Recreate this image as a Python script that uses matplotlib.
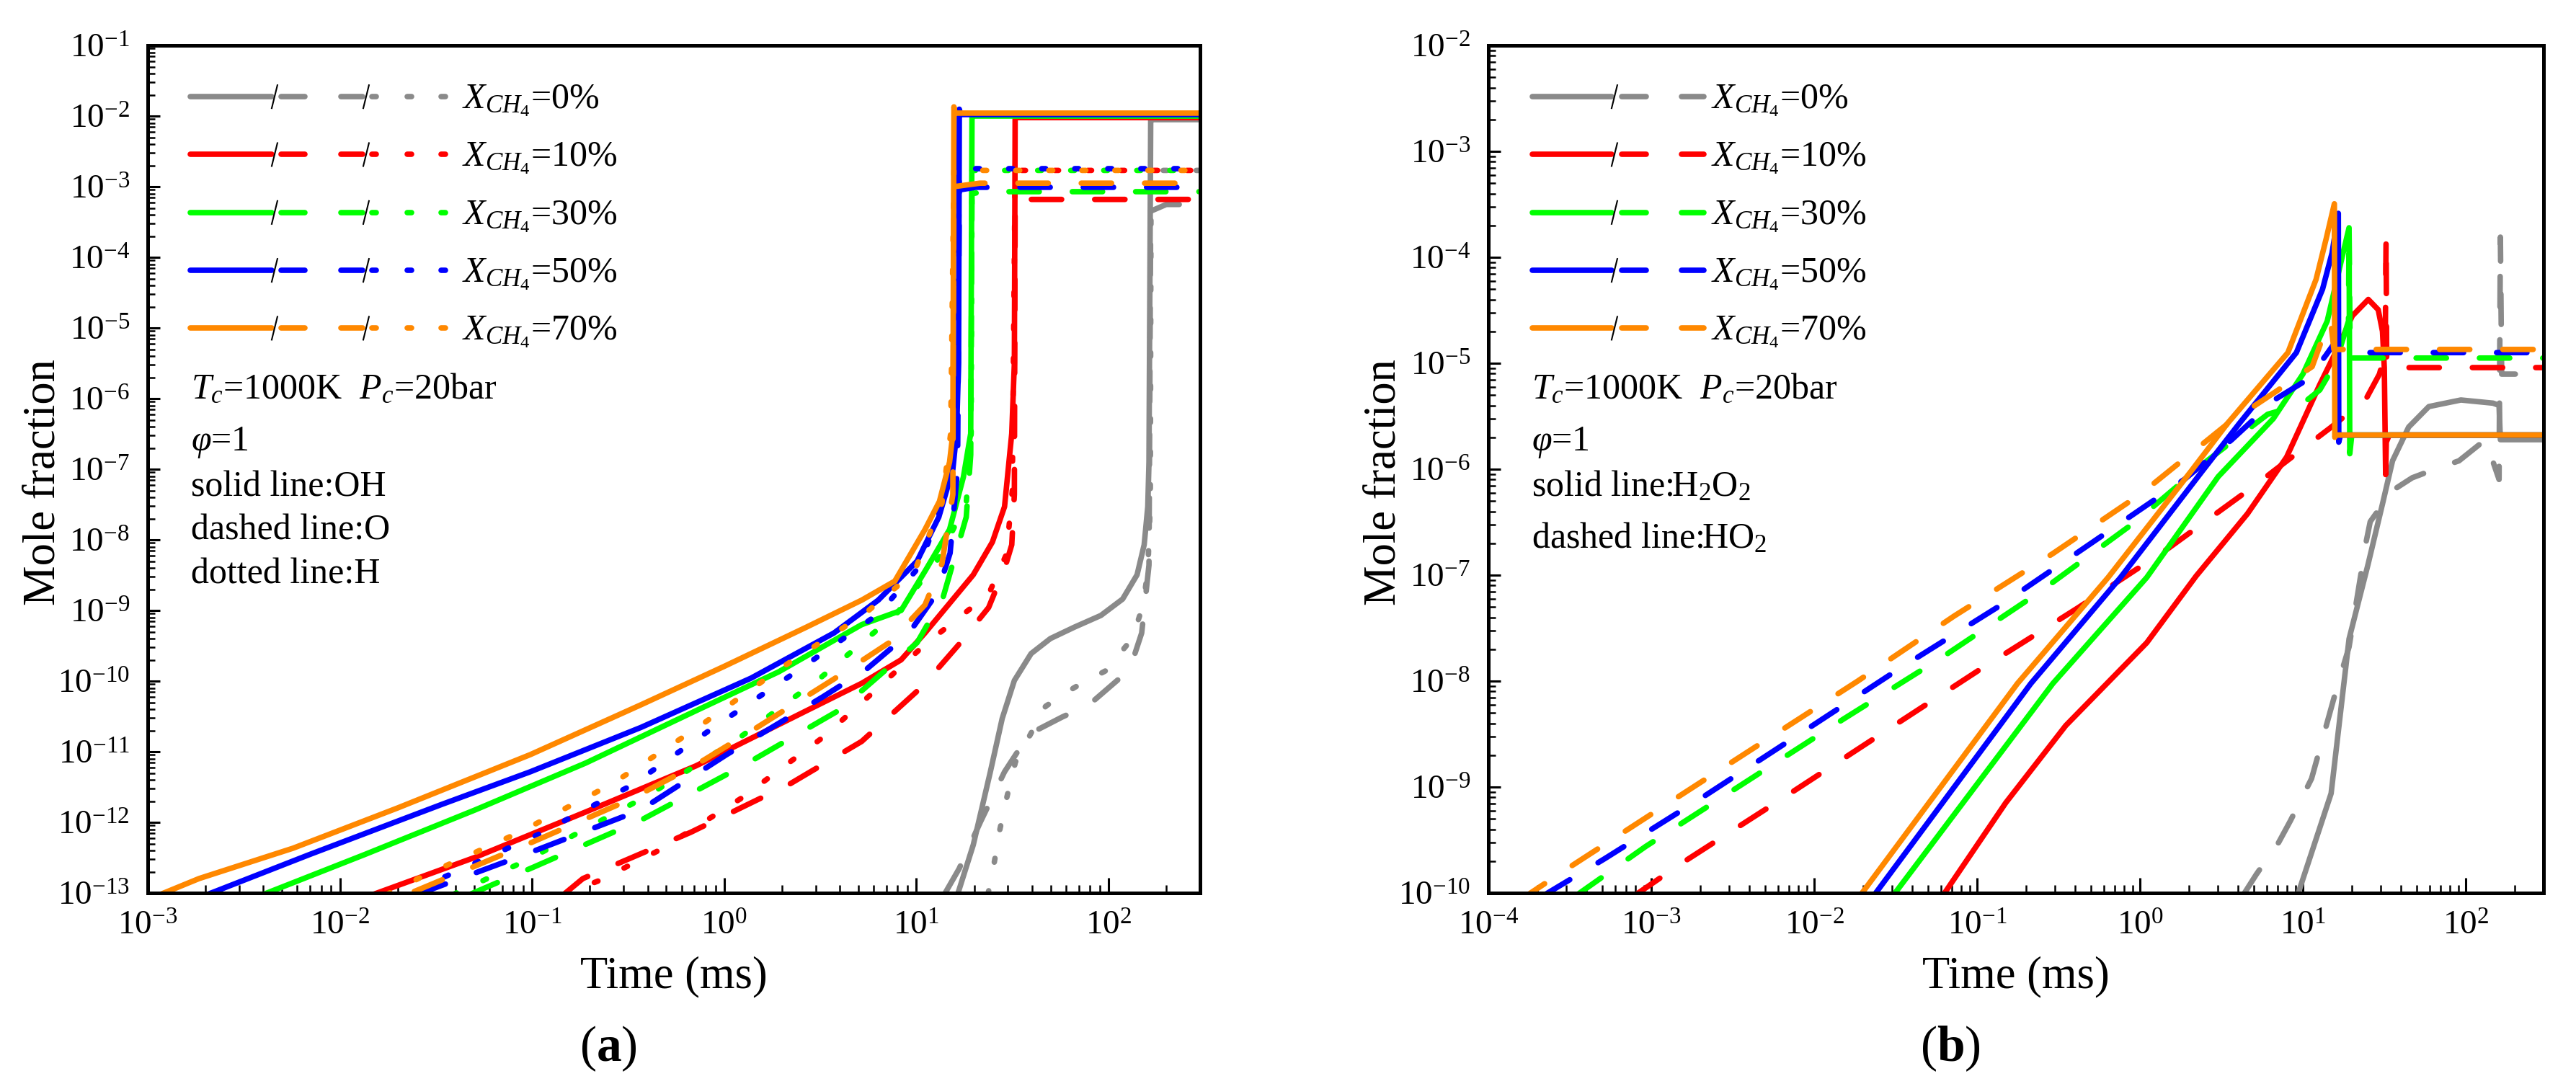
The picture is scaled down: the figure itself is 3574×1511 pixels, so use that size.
import matplotlib
matplotlib.use("Agg")
import matplotlib.pyplot as plt
import numpy as np
from matplotlib.ticker import LogLocator, LogFormatterMathtext, NullFormatter

plt.rcParams['font.family'] = ['Liberation Serif', 'DejaVu Serif']
plt.rcParams['mathtext.fontset'] = 'custom'
plt.rcParams['mathtext.rm'] = 'Liberation Serif'
plt.rcParams['mathtext.it'] = 'Liberation Serif:italic'
plt.rcParams['mathtext.bf'] = 'Liberation Serif:bold'
plt.rcParams['axes.unicode_minus'] = False

# ---- data: mixtures / colours ----
mixtures = ['0%', '10%', '30%', '50%', '70%']
colors = ['#8a8a8a', '#ff0000', '#00ff00', '#0000ff', '#ff8800']

# ---- panel (a): OH (solid), O (dashed), H (dotted); time in ms ----
oh_t = {
    '70%': [1.16e-3, 1.85e-3, 5.70e-3, 0.0200, 0.0980, 0.368, 0.993, 2.68, 5.20, 7.73, 11.1, 13.2, 14.9, 15.5, 15.7, 15.9, 300],
    '50%': [2.04e-3, 6.95e-3, 0.0340, 0.098, 0.368, 1.38, 3.73, 6.34, 10.1, 13.1, 15.5, 16.2, 16.6, 16.75, 17.0, 300],
    '30%': [3.98e-3, 0.01346, 0.0506, 0.190, 0.713, 1.92, 5.20, 8.34, 11.1, 14.9, 17.6, 19.2, 19.5, 19.95, 300],
    '10%': [0.01486, 0.0506, 0.190, 0.713, 2.68, 5.20, 8.34, 11.1, 14.9, 19.8, 24.9, 28.8, 31.4, 32.4, 32.7, 33.1, 300],
    '0%':  [16.4, 19.8, 24.3, 28.0, 32.4, 39.6, 49.9, 66.5, 91.4, 118.6, 141, 153.5, 160.3, 162.6, 166, 170, 300],
}
oh_y = {
    '70%': [9.5e-14, 1.6e-13, 4.3e-13, 1.6e-12, 9.1e-12, 4.6e-11, 1.6e-10, 5.8e-10, 1.4e-9, 2.6e-9, 1.4e-8, 3.5e-8, 1.26e-7, 3.2e-7, 1.35e-2, 1.1e-2, 1.1e-2],
    '50%': [9.5e-14, 3.5e-13, 1.8e-12, 5.2e-12, 2.2e-11, 1.1e-10, 4.8e-10, 1.4e-9, 5.0e-9, 2.1e-8, 1.0e-7, 3.2e-7, 3.2e-6, 1.25e-2, 1.05e-2, 1.05e-2],
    '30%': [9.5e-14, 3.5e-13, 1.5e-12, 6.9e-12, 3.8e-11, 1.35e-10, 6.3e-10, 1.0e-9, 3.6e-9, 1.4e-8, 7.8e-8, 3.2e-7, 1.0e-2, 1.0e-2, 1.0e-2],
    '10%': [9.5e-14, 3.2e-13, 1.4e-12, 6.3e-12, 3.8e-11, 9.3e-11, 2.0e-10, 4.8e-10, 1.26e-9, 3.2e-9, 9.3e-9, 2.95e-8, 3.2e-7, 3.2e-6, 9.5e-3, 9.5e-3, 9.5e-3],
    '0%':  [9.5e-14, 4.8e-13, 5.2e-12, 2.95e-11, 1.02e-10, 2.45e-10, 4.0e-10, 5.8e-10, 8.5e-10, 1.45e-9, 3.2e-9, 8.5e-9, 2.95e-8, 1.26e-7, 8.9e-3, 8.9e-3, 8.9e-3],
}
o_t = {
    '70%': [0.0244, 0.098, 0.323, 0.713, 1.38, 3.73, 7.23, 11.1, 13.6, 15.5, 15.7, 21.4, 300],
    '50%': [0.0252, 0.0918, 0.368, 1.03, 3.27, 5.55, 9.12, 12.9, 15.0, 16.4, 16.75, 20.4, 300],
    '30%': [0.0473, 0.101, 0.368, 1.25, 3.99, 10.1, 13.8, 18.2, 19.2, 19.5, 21.9, 300],
    '10%': [0.146, 0.184, 0.668, 2.20, 5.20, 10.8, 16.5, 23.8, 28.9, 31.4, 32.4, 32.7, 300],
    '0%':  [14.2, 16.7, 21.6, 28.8, 36.8, 41.3, 57.5, 79.1, 129, 149, 162.6, 166, 200, 300],
}
o_y = {
    '70%': [1.05e-13, 5.1e-13, 2.1e-12, 6.5e-12, 1.95e-11, 1.07e-10, 3.5e-10, 1.2e-9, 4.6e-9, 4.4e-8, 1.0e-3, 1.12e-3, 1.12e-3],
    '50%': [9.5e-14, 3.5e-13, 1.5e-12, 9.1e-12, 6.0e-11, 1.5e-10, 4.7e-10, 1.8e-9, 6.5e-9, 1.0e-7, 9.0e-4, 9.8e-4, 9.8e-4],
    '30%': [9.5e-14, 2.3e-13, 1.07e-12, 6.3e-12, 3.9e-11, 3.5e-10, 1.55e-9, 2.1e-8, 1.6e-7, 7.9e-4, 8.5e-4, 8.5e-4],
    '10%': [9.5e-14, 1.6e-13, 7.2e-13, 3.5e-12, 1.4e-11, 8.5e-11, 3.2e-10, 1.1e-9, 4.0e-9, 8.5e-9, 4.4e-8, 6.6e-4, 6.6e-4],
    '0%':  [1.02e-13, 2.2e-13, 1.02e-12, 5.2e-12, 1.45e-11, 1.95e-11, 3.1e-11, 4.6e-11, 1.45e-10, 4.8e-10, 4.4e-9, 4.5e-4, 5.6e-4, 5.6e-4],
}
h_t = {
    '70%': [0.0175, 0.0279, 0.0859, 0.261, 0.728, 1.99, 5.37, 9.75, 13.6, 15.1, 15.7, 300],
    '50%': [0.0252, 0.0352, 0.110, 0.333, 0.90, 2.46, 6.34, 10.4, 14.5, 16.2, 16.75, 300],
    '30%': [0.0388, 0.0962, 0.412, 1.19, 3.16, 7.98, 13.1, 18.2, 19.3, 19.5, 300],
    '10%': [0.146, 0.224, 0.465, 1.23, 3.27, 5.85, 11.1, 23.8, 29.5, 31.6, 32.7, 300],
    '0%':  [23.6, 25.4, 27.2, 29.7, 32.8, 47.1, 66.5, 96.8, 133, 151, 160.3, 165.2, 166.7, 300],
}
h_y = {
    '70%': [9.5e-14, 1.8e-13, 7.2e-13, 3.5e-12, 2.2e-11, 1.55e-10, 8.9e-10, 3.5e-9, 3.3e-8, 3.2e-7, 1.7e-3, 1.7e-3],
    '50%': [9.5e-14, 1.7e-13, 6.9e-13, 3.4e-12, 2.3e-11, 1.45e-10, 8.9e-10, 4.2e-9, 5.1e-8, 5.0e-7, 1.8e-3, 1.8e-3],
    '30%': [9.5e-14, 3.0e-13, 2.5e-12, 1.55e-11, 1.1e-10, 9.3e-10, 5.5e-9, 3.3e-8, 3.2e-7, 1.7e-3, 1.7e-3],
    '10%': [9.5e-14, 1.5e-13, 4.1e-13, 2.2e-12, 1.6e-11, 6.6e-11, 3.3e-10, 1.7e-9, 6.3e-9, 5.0e-8, 1.7e-3, 1.7e-3],
    '0%':  [9.5e-14, 2.6e-13, 7.8e-13, 2.35e-12, 7.1e-12, 4.4e-11, 8.1e-11, 1.4e-10, 4.0e-10, 1.15e-9, 3.6e-9, 3.2e-8, 1.7e-3, 1.7e-3],
}

# ---- panel (b): H2O2 (solid), HO2 (dashed) ----
h2o2_t = {
    '70%': [0.0192, 0.177, 0.637, 2.05, 3.44, 8.09, 12.05, 13.9, 15.6, 15.7, 15.85, 300],
    '50%': [0.0233, 0.214, 0.759, 2.40, 4.07, 9.12, 13.2, 15.1, 16.5, 16.6, 17.0, 300],
    '30%': [0.0306, 0.292, 1.10, 3.02, 6.58, 10.0, 14.1, 17.4, 19.2, 19.4, 19.95, 300],
    '10%': [0.0618, 0.150, 0.350, 1.10, 2.21, 4.57, 7.94, 12.7, 16.4, 20.1, 25.2, 29.0, 30.8, 31.6, 32.2, 32.5, 33.9, 300],
    '0%':  [9.27, 14.9, 19.2, 25.1, 30.8, 35.5, 44.6, 59.3, 93.3, 147, 160, 163, 300],
}
h2o2_y = {
    '70%': [9.5e-11, 9.5e-9, 9.5e-8, 9.5e-7, 2.7e-6, 1.26e-5, 6.2e-5, 1.5e-4, 3.2e-4, 2.0e-6, 2.1e-6, 2.1e-6],
    '50%': [9.5e-11, 9.5e-9, 9.5e-8, 9.5e-7, 2.7e-6, 1.26e-5, 5.0e-5, 1.1e-4, 2.6e-4, 1.8e-6, 2.1e-6, 2.1e-6],
    '30%': [9.5e-11, 9.5e-9, 9.5e-8, 8.5e-7, 3.0e-6, 7.9e-6, 2.5e-5, 1.0e-4, 1.9e-4, 1.4e-6, 2.1e-6, 2.1e-6],
    '10%': [9.5e-11, 7.1e-10, 3.8e-9, 2.3e-8, 9.8e-8, 3.8e-7, 1.3e-6, 6.3e-6, 1.4e-5, 2.8e-5, 4.0e-5, 3.2e-5, 2.0e-5, 9.1e-6, 8.9e-7, 1.8e-6, 2.1e-6, 2.1e-6],
    '0%':  [9.5e-11, 8.7e-10, 2.5e-8, 1.26e-7, 4.7e-7, 1.2e-6, 2.5e-6, 3.9e-6, 4.5e-6, 4.2e-6, 4.0e-6, 1.9e-6, 1.9e-6],
}
ho2_t = {
    '70%': [1.55e-4, 2.88e-4, 1.12e-3, 4.56e-3, 0.0185, 0.0721, 0.292, 1.02, 3.52, 6.82, 11.4, 13.5, 14.8, 15.5, 300],
    '50%': [2.19e-4, 5.16e-4, 2.09e-3, 8.49e-3, 0.0331, 0.134, 0.525, 1.89, 3.66, 6.82, 10.8, 13.9, 15.85, 16.5, 300],
    '30%': [3.47e-4, 9.25e-4, 3.75e-3, 0.0152, 0.0618, 0.241, 0.94, 2.58, 6.08, 9.86, 12.7, 15.85, 19.05, 19.2, 19.5, 300],
    '10%': [7.93e-4, 1.53e-3, 6.22e-3, 0.0252, 0.102, 0.415, 1.50, 5.12, 9.1, 14.7, 24.4, 29.5, 32.0, 32.4, 32.7, 300],
    '0%':  [4.29, 5.18, 7.10, 8.38, 11.3, 16.1, 19.2, 24.5, 25.9, 35.5, 46.9, 64.6, 90.8, 132, 160, 163, 166, 300],
}
ho2_y = {
    '70%': [8.5e-11, 1.6e-10, 6.2e-10, 2.5e-9, 1.0e-8, 4.1e-8, 1.6e-7, 5.9e-7, 2.75e-6, 5.4e-6, 9.3e-6, 1.9e-5, 2.5e-5, 1.35e-5, 1.35e-5],
    '50%': [9.5e-11, 2.1e-10, 8.1e-10, 3.3e-9, 1.3e-8, 5.0e-8, 2.1e-7, 8.1e-7, 1.9e-6, 4.6e-6, 7.1e-6, 1.2e-5, 1.6e-5, 1.26e-5, 1.26e-5],
    '30%': [9.5e-11, 2.75e-10, 1.1e-9, 4.4e-9, 1.7e-8, 6.9e-8, 3.2e-7, 1.2e-6, 3.3e-6, 4.1e-6, 5.6e-6, 1.0e-5, 2.5e-5, 1.9e-4, 1.12e-5, 1.12e-5],
    '10%': [9.5e-11, 1.9e-10, 7.6e-10, 3.1e-9, 1.26e-8, 4.9e-8, 1.8e-7, 7.1e-7, 1.4e-6, 2.45e-6, 4.6e-6, 7.9e-6, 1.26e-5, 1.55e-4, 9.1e-6, 9.1e-6],
    '0%':  [9.5e-11, 1.5e-10, 3.0e-10, 4.8e-10, 1.2e-9, 8.5e-9, 2.1e-8, 2.1e-7, 3.2e-7, 6.3e-7, 8.3e-7, 1.0e-6, 1.2e-6, 1.9e-6, 8.0e-7, 1.55e-4, 7.9e-6, 7.9e-6],
}

# ---- styles ----
LW = 5.5
STYLES = {
    'solid': dict(linestyle='-'),
    'dashed': dict(dashes=(5.5, 6.0)),
    'dotted': dict(dashes=(0.7, 5.3)),
}


def draw_curve(ax, t, y, color, style):
    ax.plot(t, y, color=color, lw=LW, solid_capstyle='round', dash_capstyle='round',
            solid_joinstyle='round', dash_joinstyle='round', **STYLES[style])


def style_axes(ax, xlim, ylim):
    ax.set_xscale('log')
    ax.set_yscale('log')
    ax.set_xlim(*xlim)
    ax.set_ylim(*ylim)
    for s in ax.spines.values():
        s.set_linewidth(3.6)
    for axis in (ax.xaxis, ax.yaxis):
        axis.set_major_locator(LogLocator(base=10, numticks=60))
        axis.set_minor_locator(LogLocator(base=10, subs=np.arange(2, 10) * 1.0, numticks=60))
        axis.set_major_formatter(LogFormatterMathtext())
        axis.set_minor_formatter(NullFormatter())
    ax.tick_params(which='both', direction='in', top=False, right=False)
    ax.tick_params(which='major', width=2.2, labelsize=34, pad=18)
    ax.tick_params(which='minor', width=1.8)
    ax.tick_params(axis='x', which='major', length=15)
    ax.tick_params(axis='x', which='minor', length=8)
    ax.tick_params(axis='y', which='major', length=12)
    ax.tick_params(axis='y', which='minor', length=7.5)
    ax.set_xlabel('Time (ms)', fontsize=45)
    ax.set_ylabel('Mole fraction', fontsize=45)
    ax.xaxis.set_label_coords(0.5, -0.0986)
    ax.xaxis.label.set_verticalalignment('center')
    ax.yaxis.set_label_coords(-0.099, 0.485)
    ax.yaxis.label.set_verticalalignment('center')


def seg(ax, x0, x1, y, color, lw=LW):
    ax.plot([x0, x1], [y, y], transform=ax.transAxes, color=color, lw=lw,
            solid_capstyle='round', clip_on=False)


def slash(ax, x, y):
    ax.plot([x - 0.0027, x + 0.0027], [y - 0.0136, y + 0.0136], transform=ax.transAxes,
            color='black', lw=1.5, clip_on=False)


def draw_key(ax, with_dots, label_x):
    row0, step = 0.9395, 0.0683
    for i, (mix, c) in enumerate(zip(mixtures, colors)):
        y = row0 - i * step
        if with_dots:
            seg(ax, 0.0403, 0.1179, y, c)
            seg(ax, 0.1266, 0.1494, y, c)
            seg(ax, 0.1834, 0.2042, y, c)
            for xd in (0.2151, 0.2486, 0.2808):
                seg(ax, xd - 0.0018, xd + 0.0018, y, c)
            slash(ax, 0.1205, y)
            slash(ax, 0.2075, y)
        else:
            seg(ax, 0.0415, 0.1169, y, c)
            seg(ax, 0.1265, 0.1497, y, c)
            seg(ax, 0.1831, 0.2041, y, c)
            slash(ax, 0.1195, y)
        ax.text(label_x, y - 0.0136, r'$X_{CH_4}$=' + mix, transform=ax.transAxes,
                fontsize=36, va='baseline', ha='left')


fig = plt.figure(figsize=(35.74, 15.11), dpi=100)
ax1 = fig.add_axes([0.05736, 0.18001, 0.40851, 0.77829])
ax2 = fig.add_axes([0.57778, 0.18001, 0.40962, 0.77829])

# panel (a)
for mix, c in zip(mixtures, colors):
    draw_curve(ax1, oh_t[mix], oh_y[mix], c, 'solid')
    draw_curve(ax1, o_t[mix], o_y[mix], c, 'dashed')
    draw_curve(ax1, h_t[mix], h_y[mix], c, 'dotted')
style_axes(ax1, (1e-3, 300), (1e-13, 1e-1))
draw_key(ax1, True, 0.2986)
txt_a = [r'$T_c$=1000K  $P_c$=20bar', r'$\varphi$=1', 'solid line:OH', 'dashed line:O', 'dotted line:H']
for s, yy in zip(txt_a, [0.583, 0.522, 0.4685, 0.4167, 0.365]):
    ax1.text(0.041, yy, s, transform=ax1.transAxes, fontsize=36, va='baseline', ha='left')

# panel (b)
for mix, c in zip(mixtures, colors):
    draw_curve(ax2, h2o2_t[mix], h2o2_y[mix], c, 'solid')
    draw_curve(ax2, ho2_t[mix], ho2_y[mix], c, 'dashed')
style_axes(ax2, (1e-4, 300), (1e-10, 1e-2))
draw_key(ax2, False, 0.2111)
txt_b = [r'$T_c$=1000K  $P_c$=20bar', r'$\varphi$=1', r'solid line:H$_2$O$_2$', r'dashed line:HO$_2$']
for s, yy in zip(txt_b, [0.583, 0.522, 0.4685, 0.4075]):
    ax2.text(0.041, yy, s, transform=ax2.transAxes, fontsize=36, va='baseline', ha='left')

fig.text(0.236, 0.037, r'($\mathbf{a}$)', fontsize=50, ha='center', va='center')
fig.text(0.757, 0.037, r'($\mathbf{b}$)', fontsize=50, ha='center', va='center')

fig.savefig('out.png', dpi=100)
plt.close(fig)
